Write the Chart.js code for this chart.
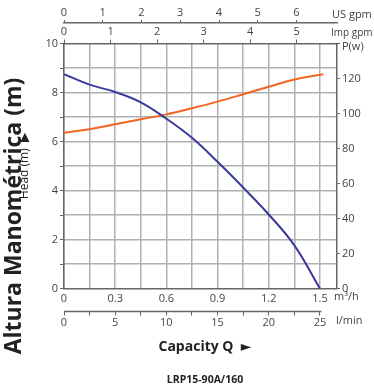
<!DOCTYPE html>
<html>
<head>
<meta charset="utf-8">
<script src="https://cdn.jsdelivr.net/npm/chart.js@4.4.0/dist/chart.umd.min.js"></script>
<style>
  html, body { margin: 0; padding: 0; background: #fff; }
  #wrap { width: 374px; height: 387px; position: relative; }
</style>
</head>
<body>
<div id="wrap"><canvas id="pumpChart"></canvas></div>
<script>
// flow Q in m3/h
const headFlow = [0, 0.15, 0.3, 0.45, 0.6, 0.75, 0.9, 1.05, 1.2, 1.35, 1.5];
const headValues = [8.75, 8.32, 8.02, 7.6, 6.93, 6.15, 5.17, 4.12, 3.02, 1.76, 0];
const powerFlow = [0, 0.15, 0.3, 0.45, 0.6, 0.75, 0.9, 1.05, 1.2, 1.35, 1.52];
const powerValues = [89, 91, 93.8, 96.7, 99.5, 103, 106.8, 111, 115.3, 119.4, 122.4];

// axes
const flowMax = 1.6;
const flowTicks = [0, 0.15, 0.3, 0.45, 0.6, 0.75, 0.9, 1.05, 1.2, 1.35, 1.5];
const flowLabels = ["0", "", "0.3", "", "0.6", "", "0.9", "", "1.2", "", "1.5"];
const lminTicks = [0, 2.5, 5, 7.5, 10, 12.5, 15, 17.5, 20, 22.5, 25];
const lminLabels = ["0", "", "5", "", "10", "", "15", "", "20", "", "25"];
const usGpmTicks = [0, 1, 2, 3, 4, 5, 6];
const impGpmTicks = [0, 1, 2, 3, 4, 5];
const headTicks = [0, 1, 2, 3, 4, 5, 6, 7, 8, 9, 10];
const headLabels = ["0", "", "2", "", "4", "", "6", "", "8", "", "10"];
const powerTicks = [0, 20, 40, 60, 80, 100, 120, 140];
const powerLabels = ["0", "20", "40", "60", "80", "100", "120", ""];

// unit conversions from m3/h
const toLmin = 16.667;
const toUsGpm = 4.4029;
const toImpGpm = 3.6662;

const FONT = '"Open Sans", "DejaVu Sans", sans-serif';
const gridColor = "#b0b0b0";
const axisColor = "#666";
const textColor = "#444";

function pairs(xs, ys) {
  return xs.map((x, i) => ({ x: x, y: ys[i] }));
}
function fixedTicks(list) {
  return (scale) => {
    scale.ticks = list.map((v) => ({ value: v }));
  };
}

// !======= horizontal grid (head scale), painted behind what is drawn =========
const headGrid = {
  id: "headGrid",
  afterDraw(chart) {
    const ctx = chart.ctx;
    const area = chart.chartArea;
    const ys = chart.scales.y;
    ctx.save();
    ctx.globalCompositeOperation = "destination-over";
    ctx.strokeStyle = gridColor;
    ctx.lineWidth = 1.5;
    headTicks.forEach((v) => {
      if (v === 0 || v === 10) return;
      const py = Math.round(ys.getPixelForValue(v) - 0.75) + 0.75;
      ctx.beginPath();
      ctx.moveTo(area.left, py);
      ctx.lineTo(area.right, py);
      ctx.stroke();
    });
    ctx.restore();
  },
};

// !======= extra texts =========
const extraText = {
  id: "extraText",
  afterDraw(chart) {
    const ctx = chart.ctx;
    const area = chart.chartArea;
    const lmin = chart.scales.xLmin;
    ctx.save();

    // l/min axis line (stops just after 25)
    ctx.strokeStyle = axisColor;
    ctx.lineWidth = 1.5;
    ctx.beginPath();
    ctx.moveTo(lmin.getPixelForValue(0), lmin.top);
    ctx.lineTo(lmin.getPixelForValue(25) + 1.5, lmin.top);
    ctx.stroke();

    ctx.fillStyle = textColor;
    ctx.font = "11px " + FONT;
    ctx.textBaseline = "middle";
    ctx.textAlign = "left";
    ctx.fillText("US gpm", area.right - 5, 15);
    ctx.font = "10px " + FONT;
    ctx.fillText("Imp gpm", area.right - 6, 33);
    ctx.font = "11px " + FONT;
    ctx.fillText("P(w)", area.right + 5, 47);
    ctx.fillText("m\u00B3/h", area.right - 3, 297);
    ctx.fillText("l/min", area.right - 1, 321);

    ctx.fillStyle = "#222";
    ctx.textAlign = "center";
    ctx.font = "bold 14px " + FONT;
    ctx.fillText("Capacity Q  \u25BA", 205, 347);
    ctx.font = "bold 10.5px " + FONT;
    ctx.fillText("LRP15-90A/160", 205, 380);

    ctx.save();
    ctx.translate(14, 216);
    ctx.rotate(-Math.PI / 2);
    ctx.font = "bold 23px " + FONT;
    ctx.fillText("Altura Manom\u00E9trica (m)", 0, 0);
    ctx.restore();

    ctx.save();
    ctx.translate(25, 166);
    ctx.rotate(-Math.PI / 2);
    ctx.font = "12px " + FONT;
    ctx.fillText("Head (m)  \u25B6", 0, 0);
    ctx.restore();

    ctx.restore();
  },
};

new Chart(document.getElementById("pumpChart"), {
  type: "line",
  data: {
    datasets: [
      {
        data: pairs(headFlow, headValues),
        xAxisID: "x",
        yAxisID: "y",
        borderColor: "#3a3a9c",
        borderWidth: 2,
        pointRadius: 0,
        tension: 0.4,
      },
      {
        data: pairs(powerFlow, powerValues),
        xAxisID: "x",
        yAxisID: "y1",
        borderColor: "#f26522",
        borderWidth: 2,
        pointRadius: 0,
        tension: 0.4,
      },
    ],
  },
  options: {
    responsive: true,
    maintainAspectRatio: false,
    animation: false,
    layout: { padding: 0 },
    plugins: { legend: { display: false }, tooltip: { enabled: false } },
    scales: {
      x: {
        type: "linear", position: "bottom", weight: 1, min: 0, max: flowMax,
        afterBuildTicks: fixedTicks(flowTicks),
        afterFit: (s) => { s.height = 23; },
        grid: { color: gridColor, lineWidth: 1.5, drawTicks: false },
        border: { color: axisColor, width: 1.5 },
        ticks: { autoSkip: false, maxRotation: 0, padding: 4, color: textColor, font: { family: FONT, size: 11 },
          callback: (v, i) => flowLabels[i] },
      },
      xLmin: {
        type: "linear", position: "bottom", weight: 2, min: 0, max: flowMax * toLmin,
        afterBuildTicks: fixedTicks(lminTicks),
        afterFit: (s) => { s.height = 75.5; },
        grid: { drawOnChartArea: false, tickLength: 4, tickColor: axisColor },
        border: { display: false },
        ticks: { autoSkip: false, maxRotation: 0, padding: 1, color: textColor, font: { family: FONT, size: 11 },
          callback: (v, i) => lminLabels[i] },
      },
      xImp: {
        type: "linear", position: "top", weight: 1, min: 0, max: flowMax * toImpGpm,
        afterBuildTicks: fixedTicks(impGpmTicks),
        afterFit: (s) => { s.height = 20.5; },
        grid: { drawOnChartArea: false, tickLength: 4, tickColor: axisColor },
        border: { color: axisColor, width: 1.5 },
        ticks: { autoSkip: false, maxRotation: 0, padding: 1, color: textColor, font: { family: FONT, size: 11 } },
      },
      xUs: {
        type: "linear", position: "top", weight: 2, min: 0, max: flowMax * toUsGpm,
        afterBuildTicks: fixedTicks(usGpmTicks),
        afterFit: (s) => { s.height = 23; },
        grid: { drawOnChartArea: false, tickLength: 3, tickColor: axisColor },
        border: { color: axisColor, width: 1.5 },
        ticks: { autoSkip: false, maxRotation: 0, padding: 1, color: textColor, font: { family: FONT, size: 11 } },
      },
      y: {
        type: "linear", position: "left", min: 0, max: 10,
        afterBuildTicks: fixedTicks(headTicks),
        afterFit: (s) => { s.width = 64; },
        grid: { drawOnChartArea: false, tickLength: 4, tickColor: axisColor },
        border: { color: axisColor, width: 1.5 },
        ticks: { padding: 2, color: textColor, font: { family: FONT, size: 11 }, callback: (v, i) => headLabels[i] },
      },
      y1: {
        type: "linear", position: "right", min: 0, max: 140,
        afterBuildTicks: fixedTicks(powerTicks),
        afterFit: (s) => { s.width = 37; },
        grid: { drawOnChartArea: false, tickLength: 3, tickColor: axisColor },
        border: { color: axisColor, width: 1.5 },
        ticks: { padding: 2, color: textColor, font: { family: FONT, size: 11 }, callback: (v, i) => powerLabels[i] },
      },
    },
  },
  plugins: [extraText, headGrid],
});
</script>
</body>
</html>
